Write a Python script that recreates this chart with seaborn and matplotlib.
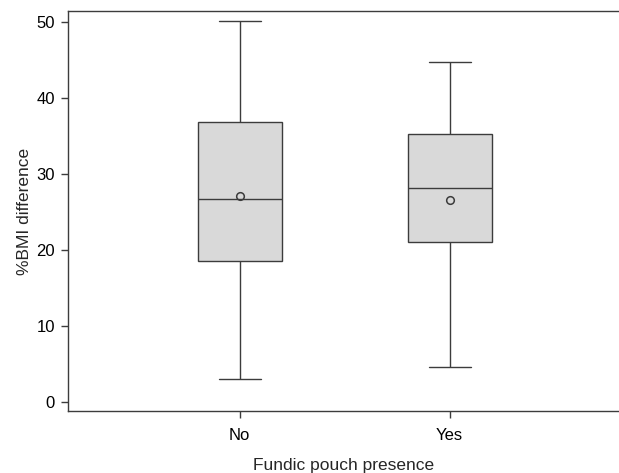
import matplotlib
matplotlib.use("Agg")
import matplotlib.pyplot as plt
import numpy as np
import pandas as pd
import seaborn as sns

# five-number summary, one entry per group
groups = ["No", "Yes"]
whisker_low = [3.0, 4.6]
q1 = [18.5, 21.0]
median = [26.7, 28.1]
q3 = [36.9, 35.3]
whisker_high = [50.2, 44.8]
means = [27.1, 26.5]

yticks = [0, 10, 20, 30, 40, 50]

# long table: 5 points per group, so the linear quartiles land on q1/median/q3
rows = []
for i, g in enumerate(groups):
    for v in (whisker_low[i], q1[i], median[i], q3[i], whisker_high[i]):
        rows.append({"pouch": g, "bmi": v})
df = pd.DataFrame(rows)

sns.set_style("ticks")
plt.rcParams["font.family"] = ["Liberation Sans", "DejaVu Sans"]

edge = "#3c3c3c"
fig = plt.figure(figsize=(6.19, 4.73), dpi=100)
ax = fig.add_axes([0.1103, 0.1311, 0.8897, 0.8456])

sns.boxplot(data=df, x="pouch", y="bmi", order=groups,
            whis=(0, 100),
            width=0.4,
            color="#d9d9d9",
            saturation=1,
            linecolor=edge,
            linewidth=1.0,
            ax=ax)

# mean markers
sns.pointplot(x=groups, y=means, order=groups,
              linestyle="none", marker="o", errorbar=None,
              color=edge, markersize=5.5, markeredgewidth=1.1,
              markerfacecolor="none",
              ax=ax)

ax.set_xlim(-0.816, 1.806)
ax.set_ylim(-1.22, 51.45)
ax.set_yticks(yticks)

for side in ("top", "bottom", "left"):
    ax.spines[side].set_color(edge)
    ax.spines[side].set_linewidth(1.0)
ax.spines["right"].set_visible(False)

ax.tick_params(axis="both", colors=edge, labelcolor="black", labelsize=12,
               width=1.0, length=5)
ax.tick_params(axis="y", pad=4.5)
ax.tick_params(axis="x", pad=7.5)

ax.set_xlabel("Fundic pouch presence", fontsize=12.5, labelpad=10.5)
ax.set_ylabel("%BMI difference", fontsize=12.5, labelpad=3.5)

plt.savefig("out.png", dpi=100)
